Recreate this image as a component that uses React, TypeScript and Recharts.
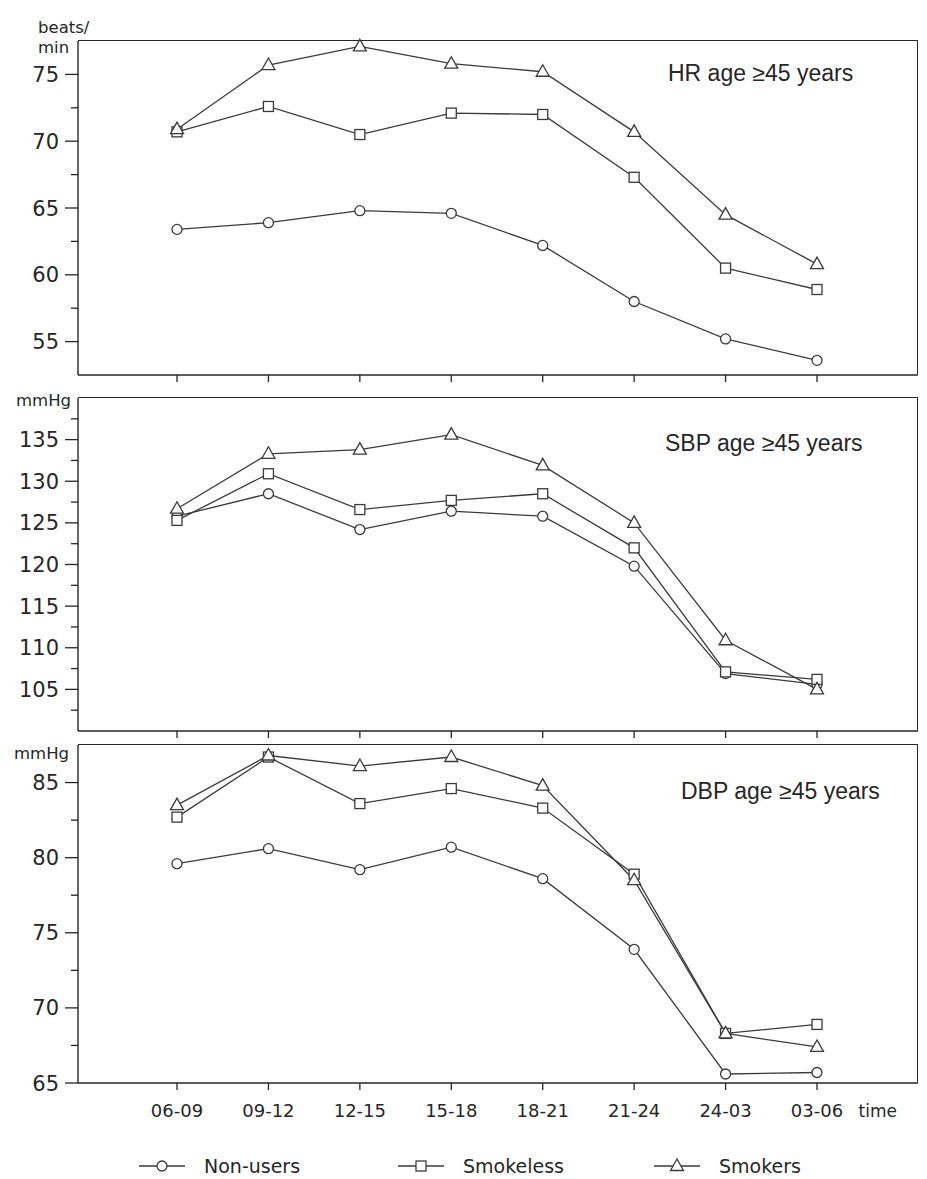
import React from 'react';
import { LineChart, Line, XAxis, YAxis, Legend, Label } from 'recharts';

// time-of-day blocks
const times = ['06-09', '09-12', '12-15', '15-18', '18-21', '21-24', '24-03', '03-06'];

// heart rate, beats/min
const hrNonUsers = [63.4, 63.9, 64.8, 64.6, 62.2, 58.0, 55.2, 53.6];
const hrSmokeless = [70.7, 72.6, 70.5, 72.1, 72.0, 67.3, 60.5, 58.9];
const hrSmokers = [70.9, 75.7, 77.1, 75.8, 75.2, 70.7, 64.5, 60.8];

// systolic blood pressure, mmHg
const sbpNonUsers = [125.8, 128.5, 124.2, 126.4, 125.8, 119.8, 106.9, 105.6];
const sbpSmokeless = [125.3, 130.9, 126.6, 127.7, 128.5, 122.0, 107.1, 106.2];
const sbpSmokers = [126.7, 133.3, 133.8, 135.6, 131.9, 125.0, 110.9, 105.0];

// diastolic blood pressure, mmHg
const dbpNonUsers = [79.6, 80.6, 79.2, 80.7, 78.6, 73.9, 65.6, 65.7];
const dbpSmokeless = [82.7, 86.7, 83.6, 84.6, 83.3, 78.9, 68.3, 68.9];
const dbpSmokers = [83.5, 86.8, 86.1, 86.7, 84.8, 78.5, 68.3, 67.4];

// y ticks (major get labels, minor are short marks)
const hrMajor = [55, 60, 65, 70, 75];
const hrMinor = [57.5, 62.5, 67.5, 72.5];
const sbpMajor = [105, 110, 115, 120, 125, 130, 135];
const sbpMinor = [102.5, 107.5, 112.5, 117.5, 122.5, 127.5, 132.5, 137.5];
const dbpMajor = [65, 70, 75, 80, 85];
const dbpMinor = [67.5, 72.5, 77.5, 82.5];

const INK = '#262626';
const LINE = '#3a3a3a';
const FONT = '"DejaVu Sans", Verdana, sans-serif';
const W = 927;
const AXIS_W = 78;
const RIGHT = 9;
const LEGEND_H = 40;

type Shape = 'circle' | 'square' | 'triangle';

const series: { key: string; name: string; shape: Shape }[] = [
  { key: 'nonUsers', name: 'Non-users', shape: 'circle' },
  { key: 'smokeless', name: 'Smokeless', shape: 'square' },
  { key: 'smokers', name: 'Smokers', shape: 'triangle' },
];

const rows = (a: number[], b: number[], c: number[]) =>
  times.map((t, i) => ({ time: t, nonUsers: a[i], smokeless: b[i], smokers: c[i] }));

function Marker({ cx, cy, shape }: { cx: number; cy: number; shape: Shape }) {
  if (cx == null || cy == null) return null;
  const st = { fill: '#fff', stroke: LINE, strokeWidth: 1.3 };
  if (shape === 'circle') return <circle cx={cx} cy={cy} r={5} {...st} />;
  if (shape === 'square') return <rect x={cx - 5} y={cy - 5} width={10} height={10} {...st} />;
  return <polygon points={`${cx},${cy - 7} ${cx - 6.5},${cy + 4.5} ${cx + 6.5},${cy + 4.5}`} {...st} />;
}

function YTick(props: any) {
  const { x, y, payload, majors } = props;
  const major = majors.includes(payload.value);
  return (
    <g>
      <line x1={x} x2={x - (major ? 13 : 7)} y1={y} y2={y} stroke={INK} strokeWidth={1.3} />
      {major && (
        <text x={x - 19} y={y} dy="0.36em" textAnchor="end" fill={INK} fontSize={21} fontFamily={FONT}>
          {payload.value}
        </text>
      )}
    </g>
  );
}

const LEGEND_LEFT = [139, 398, 654];

function LegendContent({ payload }: any) {
  return (
    <div style={{ position: 'relative', height: LEGEND_H }}>
      {(payload || []).map((entry: any, i: number) => {
        const s = series.find((d) => d.key === entry.dataKey) || series[i];
        return (
          <div
            key={s.key}
            style={{ position: 'absolute', left: LEGEND_LEFT[i], top: 7, height: 40, display: 'flex', alignItems: 'center' }}
          >
            <svg width={46} height={20}>
              <line x1={0} x2={46} y1={10} y2={10} stroke={LINE} strokeWidth={1.3} />
              <Marker cx={23} cy={10} shape={s.shape} />
            </svg>
            <span style={{ marginLeft: 19, fontSize: 19, fontFamily: FONT, color: INK }}>{entry.value}</span>
          </div>
        );
      })}
    </div>
  );
}

type PanelProps = {
  top: number;
  height: number;
  marginTop: number;
  axisHeight: number;
  data: any[];
  domain: [number, number];
  majors: number[];
  minors: number[];
  last?: boolean;
};

function Panel({ top, height, marginTop, axisHeight, data, domain, majors, minors, last }: PanelProps) {
  const ticks = [...majors, ...minors].sort((a, b) => a - b);
  const frame = { stroke: INK, strokeWidth: 1.4 };
  const plotH = height - marginTop - axisHeight - (last ? LEGEND_H : 0);
  return (
    <div style={{ position: 'absolute', left: 0, top }}>
      {/* top and right edges of the plot box */}
      <div
        style={{
          position: 'absolute',
          left: AXIS_W,
          top: marginTop - 0.7,
          width: W - AXIS_W - RIGHT,
          height: plotH,
          borderTop: `1.4px solid ${INK}`,
          borderRight: `1.4px solid ${INK}`,
          boxSizing: 'border-box',
          pointerEvents: 'none',
        }}
      />
      <LineChart width={W} height={height} data={data} margin={{ top: marginTop, right: RIGHT, bottom: 0, left: 0 }}>
        <XAxis
          dataKey="time"
          interval={0}
          padding={{ left: 99, right: 101 }}
          height={axisHeight}
          axisLine={frame}
          tickLine={{ stroke: INK, strokeWidth: 1.3 }}
          tickSize={7}
          tickMargin={14}
          tick={{ fill: INK, fontSize: 18, fontFamily: FONT }}
          tickFormatter={last ? undefined : () => ''}
        >
          {last && <Label value="time" position="insideRight" offset={21} fill={INK} fontSize={17} fontFamily={FONT} />}
        </XAxis>
        <YAxis
          type="number"
          domain={domain}
          ticks={ticks}
          interval={0}
          width={AXIS_W}
          tickSize={0}
          tickMargin={0}
          tickLine={false}
          axisLine={frame}
          tick={(p: any) => <YTick {...p} majors={majors} />}
        />
        {series.map((s) => (
          <Line
            key={s.key}
            dataKey={s.key}
            name={s.name}
            stroke={LINE}
            strokeWidth={1.3}
            isAnimationActive={false}
            activeDot={false}
            dot={(p: any) => <Marker key={`${s.key}-${p.index}`} cx={p.cx} cy={p.cy} shape={s.shape} />}
          />
        ))}
        {last && <Legend verticalAlign="bottom" content={<LegendContent />} />}
      </LineChart>
    </div>
  );
}

const titles = [
  { text: 'HR age ≥45 years', x: 668, y: 81 },
  { text: 'SBP age ≥45 years', x: 665, y: 451 },
  { text: 'DBP age ≥45 years', x: 681, y: 799 },
];

const units = [
  { text: 'beats/', x: 38, y: 33 },
  { text: 'min', x: 38, y: 53 },
  { text: 'mmHg', x: 16, y: 406 },
  { text: 'mmHg', x: 14, y: 759 },
];

export default function App() {
  return (
    <div style={{ position: 'absolute', left: 0, top: 0, width: W, height: 1179, background: '#fff', fontFamily: FONT }}>
      <Panel top={0} height={387} marginTop={41} axisHeight={12} data={rows(hrNonUsers, hrSmokeless, hrSmokers)} domain={[52.5, 77.5]} majors={hrMajor} minors={hrMinor} />
      <Panel top={385} height={358} marginTop={13} axisHeight={12} data={rows(sbpNonUsers, sbpSmokeless, sbpSmokers)} domain={[100, 140]} majors={sbpMajor} minors={sbpMinor} />
      <Panel top={737} height={442} marginTop={8} axisHeight={56} data={rows(dbpNonUsers, dbpSmokeless, dbpSmokers)} domain={[65, 87.5]} majors={dbpMajor} minors={dbpMinor} last />
      <svg width={W} height={1179} style={{ position: 'absolute', left: 0, top: 0, pointerEvents: 'none' }}>
        {titles.map((t) => (
          <text key={t.text} x={t.x} y={t.y} fontSize={23} fontFamily='"Liberation Sans", Arial, sans-serif' fill={INK}>
            {t.text}
          </text>
        ))}
        {units.map((u, i) => (
          <text key={i} x={u.x} y={u.y} fontSize={16.5} fontFamily={FONT} fill={INK}>
            {u.text}
          </text>
        ))}
      </svg>
    </div>
  );
}
